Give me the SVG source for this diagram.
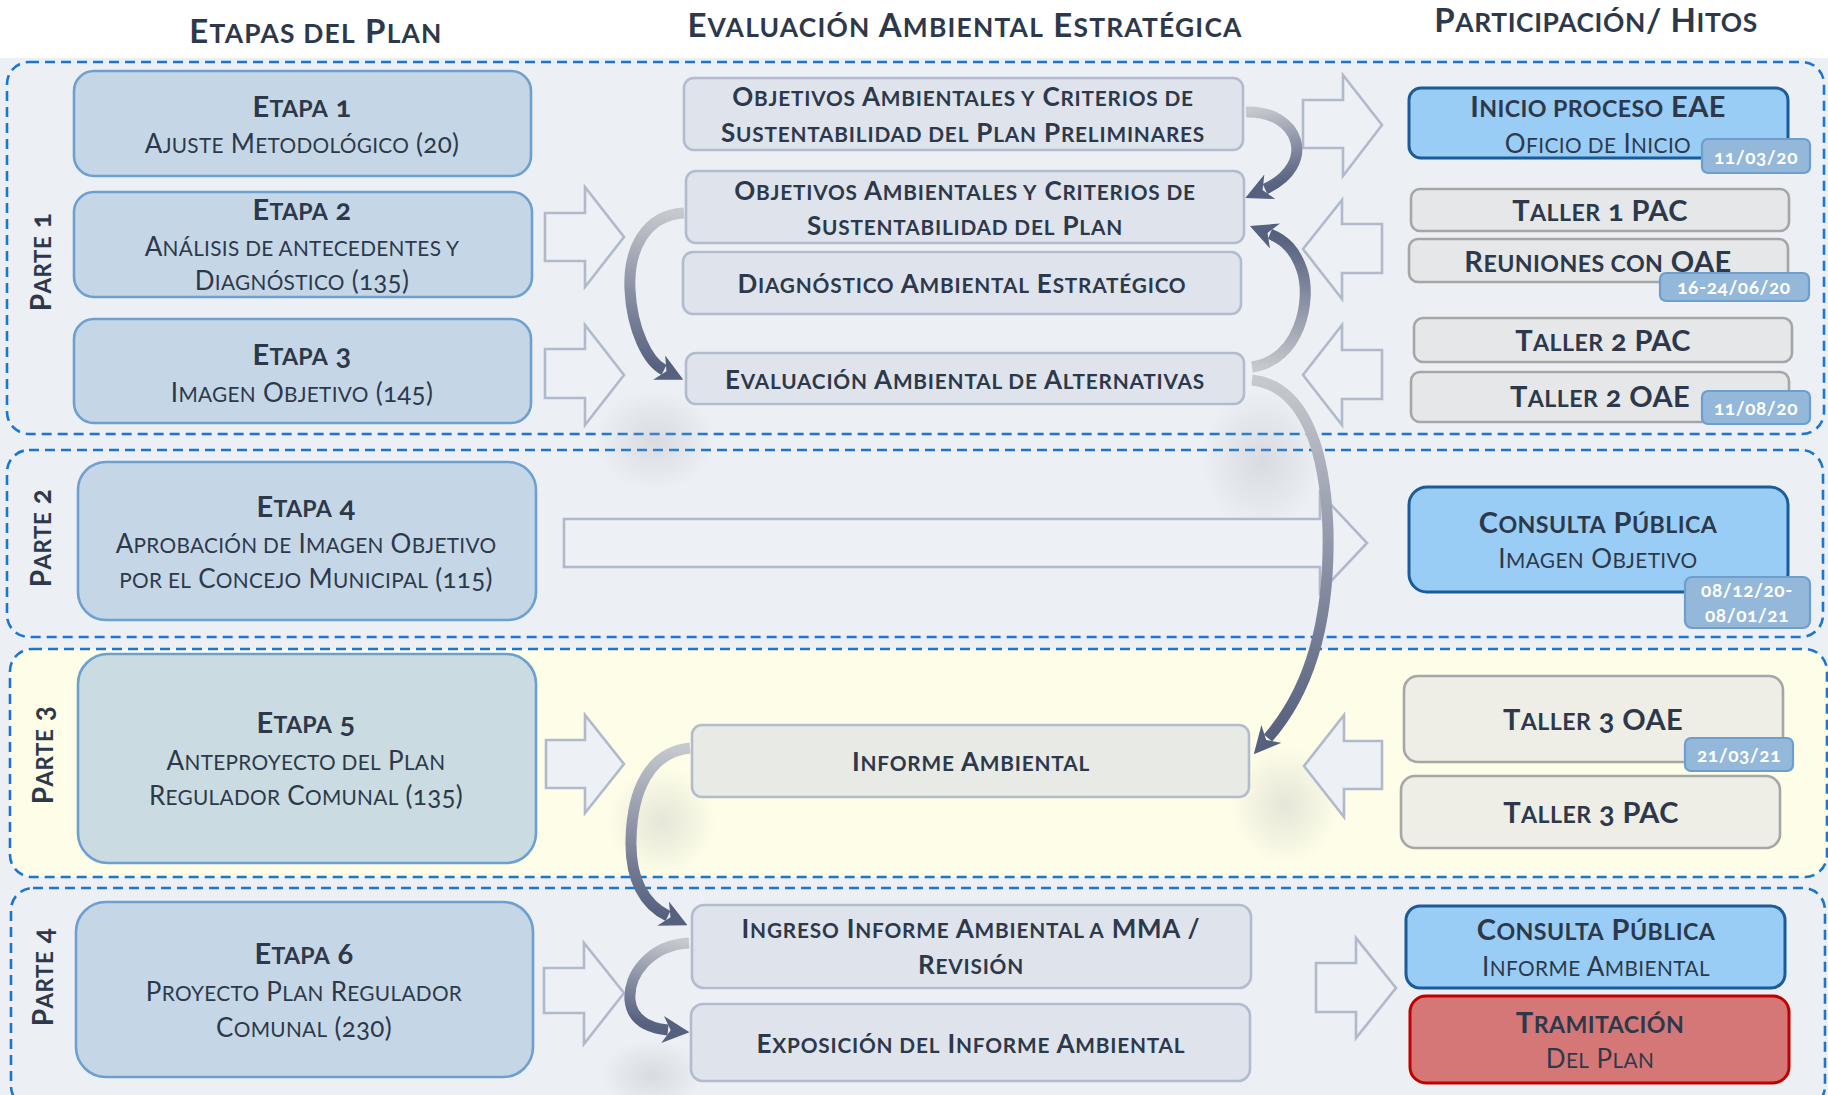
<svg xmlns="http://www.w3.org/2000/svg" width="1828" height="1095" viewBox="0 0 1828 1095">
<style>
text{font-family:Lato,"Open Sans","Noto Sans",sans-serif;fill:#2D394B;text-anchor:middle;font-variant-numeric:oldstyle-nums}
.c{text-transform:uppercase;font-size:80%}
.title{font-size:33px;font-weight:700;letter-spacing:1.2px}
.parte{font-size:28px;font-weight:700;letter-spacing:0.5px}
.eh{font-size:29px;font-weight:700;letter-spacing:0.3px}
.es{font-size:26px;font-weight:400;letter-spacing:0.3px}
.ea{font-size:26px;font-weight:700;letter-spacing:0.8px}
.hh{font-size:29px;font-weight:700;letter-spacing:0.4px}
.hs{font-size:26px;font-weight:400;letter-spacing:0.4px}
.tag{font-size:19px;font-weight:700;fill:#FFFFFF;letter-spacing:0.6px}
.zone{fill:none;stroke:#1A76CF;stroke-width:2.6;stroke-dasharray:10 6}
.etapa{fill:#C5D7E6;stroke:#6D9FCF;stroke-width:2.6}
.eae{fill:#DFE4EC;stroke:#B2BCCE;stroke-width:2.6}
.hblue{fill:#99CDF5;stroke:#1B5C98;stroke-width:3}
.hgray{fill:#E6E7E9;stroke:#A6A6A6;stroke-width:2.6}
.tagbox{fill:#94B8DA;stroke:#6C9ED0;stroke-width:2.2}
.blk{fill:#EDF0F4;stroke:#B1BACB;stroke-width:2.6;stroke-linejoin:miter}
.curve{fill:none;stroke-width:11;stroke-linecap:butt}
.shd{fill:url(#sh)}
</style>
<defs>
<marker id="ah" viewBox="0 0 10 10" refX="2" refY="5" markerWidth="27" markerHeight="27" orient="auto" markerUnits="userSpaceOnUse">
<path d="M0,0 L10,5 L0,10 L3,5 z" fill="#56607F"/>
</marker>
<radialGradient id="sh"><stop offset="0" stop-color="#A4A8AE" stop-opacity="0.28"/><stop offset="0.6" stop-color="#A4A8AE" stop-opacity="0.12"/><stop offset="1" stop-color="#A4A8AE" stop-opacity="0"/></radialGradient>
<linearGradient id="g1" gradientUnits="userSpaceOnUse" x1="1246" y1="112" x2="1265" y2="189"><stop offset="0" stop-color="#C6C9CE"/><stop offset="1" stop-color="#56607F"/></linearGradient>
<linearGradient id="g2" gradientUnits="userSpaceOnUse" x1="684" y1="213" x2="664" y2="370"><stop offset="0" stop-color="#C6C9CE"/><stop offset="1" stop-color="#56607F"/></linearGradient>
<linearGradient id="g3" gradientUnits="userSpaceOnUse" x1="1252" y1="367" x2="1270" y2="234"><stop offset="0" stop-color="#C6C9CE"/><stop offset="1" stop-color="#56607F"/></linearGradient>
<linearGradient id="g4" gradientUnits="userSpaceOnUse" x1="1252" y1="380" x2="1268" y2="738"><stop offset="0" stop-color="#C6C9CE"/><stop offset="1" stop-color="#56607F"/></linearGradient>
<linearGradient id="g5" gradientUnits="userSpaceOnUse" x1="690" y1="748" x2="668" y2="916"><stop offset="0" stop-color="#C6C9CE"/><stop offset="1" stop-color="#56607F"/></linearGradient>
<linearGradient id="g6" gradientUnits="userSpaceOnUse" x1="689" y1="943" x2="668" y2="1030"><stop offset="0" stop-color="#C6C9CE"/><stop offset="1" stop-color="#56607F"/></linearGradient>
</defs>

<rect x="0" y="0" width="1828" height="1095" fill="#FFFFFF"/>
<rect x="0" y="58" width="1828" height="1037" fill="#ECEFF3"/>

<g id="titles">
<text class="title" x="316" y="43">E<tspan class="c">tapas del</tspan> P<tspan class="c">lan</tspan></text>
<text class="title" x="965" y="37">E<tspan class="c">valuación</tspan> A<tspan class="c">mbiental</tspan> E<tspan class="c">stratégica</tspan></text>
<text class="title" x="1596" y="32" style="letter-spacing:0.6px">P<tspan class="c">articipación</tspan>/ H<tspan class="c">itos</tspan></text>
</g>

<g id="zones">
<rect class="zone" x="7" y="62" width="1817" height="372" rx="22"/>
<rect class="zone" x="7" y="450" width="1816" height="187" rx="22"/>
<rect class="zone" x="10" y="649" width="1817" height="228" rx="22" style="fill:#FEFEE8"/>
<rect class="zone" x="11" y="888" width="1814" height="220" rx="22"/>
<text class="parte" transform="translate(51,262) rotate(-90)">P<tspan class="c">arte</tspan> 1</text>
<text class="parte" transform="translate(51,538) rotate(-90)">P<tspan class="c">arte</tspan> 2</text>
<text class="parte" transform="translate(53,755) rotate(-90)">P<tspan class="c">arte</tspan> 3</text>
<text class="parte" transform="translate(53,977) rotate(-90)">P<tspan class="c">arte</tspan> 4</text>
</g>

<g id="shadows">
<ellipse class="shd" cx="655" cy="440" rx="60" ry="50"/>
<ellipse class="shd" cx="1262" cy="460" rx="60" ry="70"/>
<ellipse class="shd" cx="662" cy="822" rx="55" ry="55"/>
<ellipse class="shd" cx="1285" cy="805" rx="55" ry="60"/>
<ellipse class="shd" cx="652" cy="1075" rx="50" ry="35"/>
</g>

<g id="connectors">
<path class="blk" d="M545,213 H585 V187 L624,237 L585,287 V261 H545 Z"/>
<path class="blk" d="M545,349 H585 V325 L624,375 L585,425 V398 H545 Z"/>
<path class="blk" d="M546,740 H585 V715 L624,764 L585,813 V788 H546 Z"/>
<path class="blk" d="M544,968 H584 V943 L624,993 L584,1044 V1013 H544 Z"/>
<path class="blk" d="M564,519 H1320 V493 L1367,543 L1320,593 V567 H564 Z"/>
<path class="blk" d="M1303,100 H1343 V75 L1382,125 L1343,176 V148 H1303 Z"/>
<path class="blk" d="M1382,224 H1342 V200 L1303,249 L1342,299 V273 H1382 Z"/>
<path class="blk" d="M1382,350 H1342 V325 L1303,375 L1342,425 V399 H1382 Z"/>
<path class="blk" d="M1382,741 H1344 V715 L1304,766 L1344,817 V789 H1382 Z"/>
<path class="blk" d="M1316,963 H1356 V938 L1396,988 L1356,1038 V1012 H1316 Z"/>

<path class="curve" stroke="url(#g1)" marker-end="url(#ah)" d="M1246,112 C1300,110 1318,165 1265,189"/>
<path class="curve" stroke="url(#g2)" marker-end="url(#ah)" d="M684,213 C645,215 628,250 630,290 C632,330 648,362 664,370"/>
<path class="curve" stroke="url(#g3)" marker-end="url(#ah)" d="M1252,367 C1300,360 1312,300 1302,270 C1295,250 1285,240 1270,234"/>
<path class="curve" stroke="url(#g4)" marker-end="url(#ah)" d="M1252,380 C1300,385 1325,440 1328,530 C1330,620 1310,690 1268,738"/>
<path class="curve" stroke="url(#g5)" marker-end="url(#ah)" d="M690,748 C650,752 632,790 631,840 C630,880 645,905 668,916"/>
<path class="curve" stroke="url(#g6)" marker-end="url(#ah)" d="M689,943 C650,945 628,975 630,1000 C632,1020 648,1028 668,1030"/>
</g>

<g id="etapa1">
<rect class="etapa" x="74" y="71" width="457" height="105" rx="20"/>
<text class="eh" x="302" y="117">E<tspan class="c">tapa</tspan> 1</text>
<text class="es" x="302" y="153">A<tspan class="c">juste</tspan> M<tspan class="c">etodológico</tspan> (20)</text>
</g>
<g id="etapa2">
<rect class="etapa" x="74" y="192" width="458" height="105" rx="20"/>
<text class="eh" x="302" y="220">E<tspan class="c">tapa</tspan> 2</text>
<text class="es" x="302" y="256">A<tspan class="c">nálisis de antecedentes y</tspan></text>
<text class="es" x="302" y="290">D<tspan class="c">iagnóstico</tspan> (135)</text>
</g>
<g id="etapa3">
<rect class="etapa" x="74" y="319" width="457" height="104" rx="20"/>
<text class="eh" x="302" y="365">E<tspan class="c">tapa</tspan> 3</text>
<text class="es" x="302" y="402">I<tspan class="c">magen</tspan> O<tspan class="c">bjetivo</tspan> (145)</text>
</g>
<g id="etapa4">
<rect class="etapa" x="78" y="462" width="458" height="158" rx="28"/>
<text class="eh" x="306" y="517">E<tspan class="c">tapa</tspan> 4</text>
<text class="es" x="306" y="553">A<tspan class="c">probación de</tspan> I<tspan class="c">magen</tspan> O<tspan class="c">bjetivo</tspan></text>
<text class="es" x="306" y="588"><tspan class="c">por el</tspan> C<tspan class="c">oncejo</tspan> M<tspan class="c">unicipal</tspan> (115)</text>
</g>
<g id="etapa5">
<rect class="etapa" x="78" y="654" width="458" height="209" rx="30" style="fill:#CADCE1"/>
<text class="eh" x="306" y="733">E<tspan class="c">tapa</tspan> 5</text>
<text class="es" x="306" y="770">A<tspan class="c">nteproyecto del</tspan> P<tspan class="c">lan</tspan></text>
<text class="es" x="306" y="805">R<tspan class="c">egulador</tspan> C<tspan class="c">omunal</tspan> (135)</text>
</g>
<g id="etapa6">
<rect class="etapa" x="76" y="902" width="457" height="175" rx="30"/>
<text class="eh" x="304" y="964">E<tspan class="c">tapa</tspan> 6</text>
<text class="es" x="304" y="1001">P<tspan class="c">royecto</tspan> P<tspan class="c">lan</tspan> R<tspan class="c">egulador</tspan></text>
<text class="es" x="304" y="1037">C<tspan class="c">omunal</tspan> (230)</text>
</g>

<g id="eae1">
<rect class="eae" x="684" y="78" width="559" height="72" rx="10"/>
<text class="ea" x="963" y="106">O<tspan class="c">bjetivos</tspan> A<tspan class="c">mbientales y</tspan> C<tspan class="c">riterios de</tspan></text>
<text class="ea" x="963" y="142">S<tspan class="c">ustentabilidad del</tspan> P<tspan class="c">lan</tspan> P<tspan class="c">reliminares</tspan></text>
</g>
<g id="eae2">
<rect class="eae" x="686" y="171" width="558" height="72" rx="10"/>
<text class="ea" x="965" y="200">O<tspan class="c">bjetivos</tspan> A<tspan class="c">mbientales y</tspan> C<tspan class="c">riterios de</tspan></text>
<text class="ea" x="965" y="235">S<tspan class="c">ustentabilidad del</tspan> P<tspan class="c">lan</tspan></text>
</g>
<g id="eae3">
<rect class="eae" x="683" y="252" width="558" height="62" rx="10"/>
<text class="ea" x="962" y="293">D<tspan class="c">iagnóstico</tspan> A<tspan class="c">mbiental</tspan> E<tspan class="c">stratégico</tspan></text>
</g>
<g id="eae4">
<rect class="eae" x="686" y="353" width="558" height="51" rx="10"/>
<text class="ea" x="965" y="389">E<tspan class="c">valuación</tspan> A<tspan class="c">mbiental de</tspan> A<tspan class="c">lternativas</tspan></text>
</g>
<g id="eae5">
<rect class="eae" x="692" y="725" width="557" height="72" rx="10" style="fill:#E7EAE5"/>
<text class="ea" x="971" y="771">I<tspan class="c">nforme</tspan> A<tspan class="c">mbiental</tspan></text>
</g>
<g id="eae6">
<rect class="eae" x="692" y="905" width="559" height="83" rx="12"/>
<text class="ea" x="971" y="938">I<tspan class="c">ngreso</tspan> I<tspan class="c">nforme</tspan> A<tspan class="c">mbiental a</tspan> MMA /</text>
<text class="ea" x="971" y="974">R<tspan class="c">evisión</tspan></text>
</g>
<g id="eae7">
<rect class="eae" x="691" y="1004" width="559" height="77" rx="12"/>
<text class="ea" x="971" y="1053">E<tspan class="c">xposición del</tspan> I<tspan class="c">nforme</tspan> A<tspan class="c">mbiental</tspan></text>
</g>

<g id="hito1">
<rect class="hblue" x="1409" y="88" width="379" height="70" rx="12"/>
<text class="hh" x="1598" y="117">I<tspan class="c">nicio proceso</tspan> EAE</text>
<text class="hs" x="1598" y="153">O<tspan class="c">ficio de</tspan> I<tspan class="c">nicio</tspan></text>
<rect class="tagbox" x="1702" y="139" width="108" height="34" rx="6"/>
<text class="tag" x="1756" y="164">11/03/20</text>
</g>
<g id="hito2">
<rect class="hgray" x="1411" y="189" width="378" height="42" rx="9"/>
<text class="hh" x="1600" y="221">T<tspan class="c">aller</tspan> 1 PAC</text>
</g>
<g id="hito3">
<rect class="hgray" x="1409" y="239" width="379" height="43" rx="9"/>
<text class="hh" x="1598" y="272">R<tspan class="c">euniones con</tspan> OAE</text>
<rect class="tagbox" x="1660" y="273" width="149" height="28" rx="6"/>
<text class="tag" x="1734" y="294">16-24/06/20</text>
</g>
<g id="hito4">
<rect class="hgray" x="1414" y="318" width="378" height="44" rx="9"/>
<text class="hh" x="1603" y="351">T<tspan class="c">aller</tspan> 2 PAC</text>
</g>
<g id="hito5">
<rect class="hgray" x="1411" y="372" width="378" height="50" rx="9"/>
<text class="hh" x="1600" y="407">T<tspan class="c">aller</tspan> 2 OAE</text>
<rect class="tagbox" x="1702" y="391" width="108" height="33" rx="6"/>
<text class="tag" x="1756" y="415">11/08/20</text>
</g>
<g id="hito6">
<rect class="hblue" x="1409" y="487" width="379" height="105" rx="18"/>
<text class="hh" x="1598" y="533">C<tspan class="c">onsulta</tspan> P<tspan class="c">ública</tspan></text>
<text class="hs" x="1598" y="568">I<tspan class="c">magen</tspan> O<tspan class="c">bjetivo</tspan></text>
<rect class="tagbox" x="1685" y="577" width="125" height="51" rx="7"/>
<text class="tag" x="1747" y="597">08/12/20-</text>
<text class="tag" x="1747" y="622">08/01/21</text>
</g>
<g id="hito7">
<rect class="hgray" x="1404" y="676" width="379" height="86" rx="14" style="fill:#EEEEE6"/>
<text class="hh" x="1593" y="730">T<tspan class="c">aller</tspan> 3 OAE</text>
<rect class="tagbox" x="1685" y="738" width="108" height="33" rx="6"/>
<text class="tag" x="1739" y="762">21/03/21</text>
</g>
<g id="hito8">
<rect class="hgray" x="1401" y="776" width="379" height="72" rx="14" style="fill:#EEEEE6"/>
<text class="hh" x="1591" y="823">T<tspan class="c">aller</tspan> 3 PAC</text>
</g>
<g id="hito9">
<rect class="hblue" x="1406" y="906" width="379" height="82" rx="14"/>
<text class="hh" x="1596" y="940">C<tspan class="c">onsulta</tspan> P<tspan class="c">ública</tspan></text>
<text class="hs" x="1596" y="976">I<tspan class="c">nforme</tspan> A<tspan class="c">mbiental</tspan></text>
</g>
<g id="hito10">
<rect class="hblue" x="1410" y="996" width="379" height="87" rx="16" style="fill:#D67777;stroke:#C00000"/>
<text class="hh" x="1600" y="1033">T<tspan class="c">ramitación</tspan></text>
<text class="hs" x="1600" y="1068">D<tspan class="c">el</tspan> P<tspan class="c">lan</tspan></text>
</g>
</svg>
